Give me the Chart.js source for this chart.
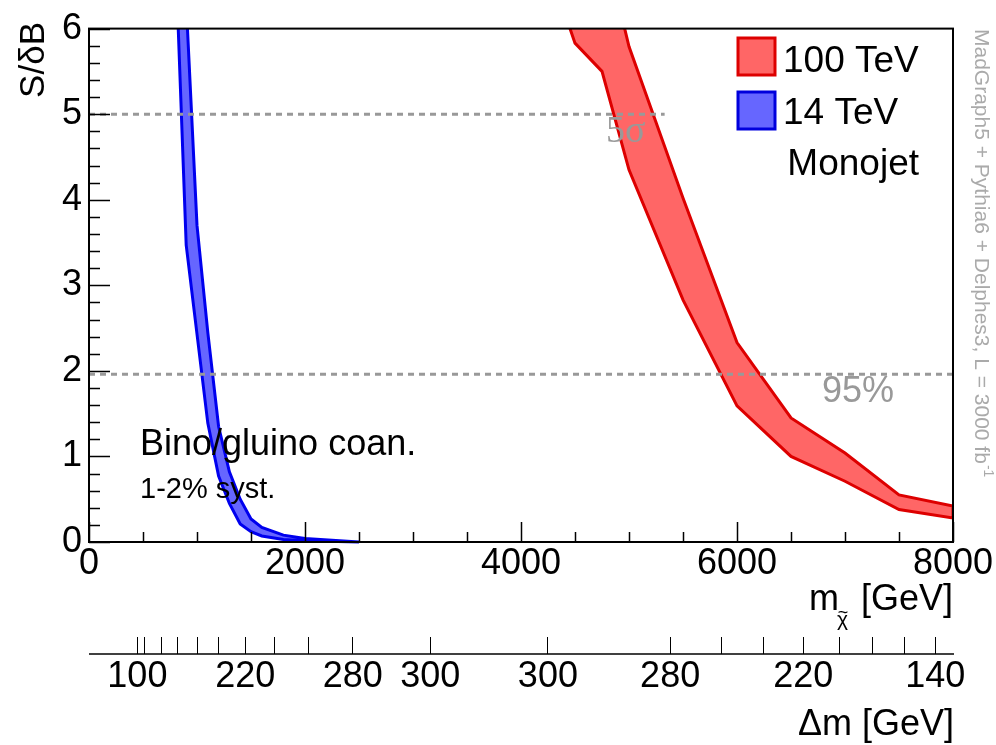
<!DOCTYPE html>
<html><head><meta charset="UTF-8"><title>S/dB vs mass</title>
<script src="https://cdn.jsdelivr.net/npm/chart.js"></script>
<style>
  html, body { margin: 0; padding: 0; background: #fff; }
  #c { display: block; }
</style></head><body>
<canvas id="c" width="996" height="745"></canvas>
<script>
// --- data (m in GeV, S/dB) ---
const blueLower = [[800, 6.9], [900, 3.47], [1100, 1.39], [1200, 0.77], [1300, 0.45], [1400, 0.21], [1500, 0.12], [1600, 0.07], [1800, 0.03], [2000, 0.015], [2500, 0]];
const blueUpper = [[850, 7.0], [900, 6.3], [1000, 3.7], [1100, 2.45], [1200, 1.35], [1300, 0.82], [1400, 0.5], [1500, 0.27], [1600, 0.17], [1800, 0.08], [2000, 0.04], [2500, 0]];
const redLower = [[4250, 6.75], [4500, 5.83], [4750, 5.5], [5000, 4.35], [5500, 2.83], [6000, 1.59], [6500, 1.0], [7000, 0.71], [7500, 0.38], [8000, 0.28]];
const redUpper = [[4750, 7.1], [5000, 5.79], [5500, 4.02], [6000, 2.33], [6500, 1.45], [7000, 1.04], [7500, 0.55], [8000, 0.42]];
const line5sigma = [[0, 5], [5330, 5]];
const line95 = [[0, 1.96], [8000, 1.96]];

const xMajor = [0, 2000, 4000, 6000, 8000];
const yMajor = [0, 1, 2, 3, 4, 5, 6];

// second axis: mass position of each dm tick, its dm value, and the printed label
const dmTickMass = [448, 517, 671, 820, 1006, 1197, 1447, 1713, 2037, 2442, 3159, 4249, 5381, 5854, 6247, 6614, 6948, 7257, 7555, 7836];
const dmTickValue = [100, 120, 140, 160, 180, 200, 220, 240, 260, 280, 300, 300, 280, 260, 240, 220, 200, 180, 160, 140];
const dmTickLabel = ['100', '', '', '', '', '', '220', '', '', '280', '300', '300', '280', '', '', '220', '', '', '', '140'];

const FONT = '"Liberation Sans", Arial, Helvetica, sans-serif';
const SERIF = '"Liberation Serif", "Times New Roman", serif';

const pts = a => a.map(([x, y]) => ({ x, y }));
const shape = (lo, up) => pts(lo.concat(up.slice().reverse()));

// ROOT style frame, inward ticks, extra axis line and texts
const rootDecor = {
  id: 'rootDecor',
  afterDraw(chart) {
    const ctx = chart.ctx, a = chart.chartArea;
    const sx = chart.scales.x, sy = chart.scales.y, s2 = chart.scales.x2;
    ctx.save();
    ctx.strokeStyle = '#000'; ctx.lineWidth = 2;
    ctx.strokeRect(a.left, a.top, a.right - a.left, a.bottom - a.top);

    ctx.lineWidth = 1.5;
    ctx.beginPath();
    for (let v = 0; v <= 8000; v += 500) {
      const px = Math.round(sx.getPixelForValue(v)) + 0.5;
      const len = v % 2000 === 0 ? 20 : 10;
      ctx.moveTo(px, a.bottom); ctx.lineTo(px, a.bottom - len);
    }
    for (let i = 0; i <= 30; i++) {
      const v = i / 5;
      const py = Math.round(sy.getPixelForValue(v)) + 0.5;
      const len = i % 5 === 0 ? 21 : 11;
      ctx.moveTo(a.left, py); ctx.lineTo(a.left + len, py);
    }
    ctx.stroke();

    // second axis line under its ticks
    ctx.lineWidth = 1.5;
    ctx.beginPath();
    const ly = s2.top + 17;
    ctx.moveTo(s2.left, ly); ctx.lineTo(s2.right + 1, ly);
    ctx.stroke();

    ctx.fillStyle = '#000';
    ctx.textBaseline = 'alphabetic';

    // y title
    ctx.save();
    ctx.translate(44, 22); ctx.rotate(-Math.PI / 2);
    ctx.textAlign = 'right'; ctx.font = '35px ' + FONT;
    ctx.fillText('S/δB', 0, 0);
    ctx.restore();

    // x titles
    ctx.font = '36px ' + FONT; ctx.textAlign = 'left';
    ctx.fillText('m', 809, 610);
    ctx.font = '21px ' + FONT;
    ctx.fillText('χ', 837, 626);
    ctx.font = '18px ' + FONT; ctx.textAlign = 'center';
    ctx.fillText('~', 843, 618);
    ctx.font = '36px ' + FONT; ctx.textAlign = 'right';
    ctx.fillText('[GeV]', 953, 610);
    ctx.fillText('Δm [GeV]', 954, 735);

    // annotations
    ctx.textAlign = 'left';
    ctx.font = '36px ' + FONT;
    ctx.fillText('Bino/gluino coan.', 140, 455);
    ctx.font = '29px ' + FONT;
    ctx.fillText('1-2% syst.', 140, 498);

    ctx.fillStyle = '#999';
    ctx.font = '38px ' + SERIF;
    ctx.fillText('5σ', 606, 142);
    ctx.font = '36px ' + FONT;
    ctx.fillText('95%', 822, 402);

    // legend
    ctx.lineWidth = 3;
    ctx.fillStyle = '#ff6666'; ctx.strokeStyle = '#dd0000';
    ctx.fillRect(738, 38, 37, 37); ctx.strokeRect(738, 38, 37, 37);
    ctx.fillStyle = '#6666ff'; ctx.strokeStyle = '#0000dd';
    ctx.fillRect(738, 92, 37, 37); ctx.strokeRect(738, 92, 37, 37);
    ctx.fillStyle = '#000'; ctx.font = '37px ' + FONT;
    ctx.fillText('100 TeV', 783, 72);
    ctx.fillText('14 TeV', 783, 124);
    ctx.textAlign = 'right';
    ctx.fillText('Monojet', 919, 175);

    // side label
    ctx.save();
    ctx.translate(975, 29); ctx.rotate(Math.PI / 2);
    ctx.textAlign = 'left'; ctx.fillStyle = '#aaa';
    ctx.font = '21px ' + FONT;
    const side = 'MadGraph5 + Pythia6 + Delphes3, L = 3000 fb';
    ctx.fillText(side, 0, 0);
    const w = ctx.measureText(side).width;
    ctx.font = '14px ' + FONT;
    ctx.fillText('-1', w + 1, -9);
    ctx.restore();

    ctx.restore();
  }
};

new Chart(document.getElementById('c'), {
  type: 'line',
  data: {
    datasets: [
      { data: pts(line5sigma), borderColor: '#999', borderWidth: 3, borderDash: [6, 5], pointRadius: 0, fill: false },
      { data: pts(line95), borderColor: '#999', borderWidth: 3, borderDash: [6, 5], pointRadius: 0, fill: false },
      { data: shape(redLower, redUpper), borderColor: '#dd0000', backgroundColor: '#ff6666', borderWidth: 3, pointRadius: 0, fill: 'shape', clip: { left: 0, top: 0, right: 0, bottom: 3 } },
      { data: shape(blueLower, blueUpper), borderColor: '#0000ee', backgroundColor: '#6666ff', borderWidth: 3, pointRadius: 0, fill: 'shape', clip: { left: 0, top: 0, right: 0, bottom: 3 } }
    ]
  },
  options: {
    responsive: false, animation: false, devicePixelRatio: 1,
    layout: { padding: { top: 21, right: 43, left: 0, bottom: 0 } },
    plugins: { legend: { display: false }, tooltip: { enabled: false } },
    elements: { line: { tension: 0 } },
    scales: {
      x: {
        type: 'linear', position: 'bottom', min: 0, max: 8000,
        afterBuildTicks: s => { s.ticks = xMajor.map(v => ({ value: v })); },
        afterFit: s => { s.height = 95; },
        grid: { display: false, drawTicks: false }, border: { display: false },
        ticks: { callback: v => String(v), font: { size: 36, family: FONT }, color: '#000', padding: 0, maxRotation: 0, autoSkip: false }
      },
      x2: {
        type: 'linear', position: 'bottom', min: 0, max: 8000,
        afterBuildTicks: s => { s.ticks = dmTickMass.map(v => ({ value: v })); },
        afterFit: s => { s.height = 108; },
        grid: { display: true, drawOnChartArea: false, drawTicks: true, tickLength: 17, color: '#000', lineWidth: 1 },
        border: { display: false },
        ticks: {
          callback: (v, i) => dmTickLabel[i],
          font: { size: 36, family: FONT }, color: '#000', padding: 1, maxRotation: 0, autoSkip: false
        }
      },
      y: {
        type: 'linear', min: 0, max: 6,
        afterBuildTicks: s => { s.ticks = yMajor.map(v => ({ value: v })); },
        afterFit: s => { s.width = 89; },
        grid: { display: false, drawTicks: false }, border: { display: false },
        ticks: { callback: v => String(v), font: { size: 36, family: FONT }, color: '#000', padding: 7 }
      }
    }
  },
  plugins: [rootDecor]
});
</script></body></html>
